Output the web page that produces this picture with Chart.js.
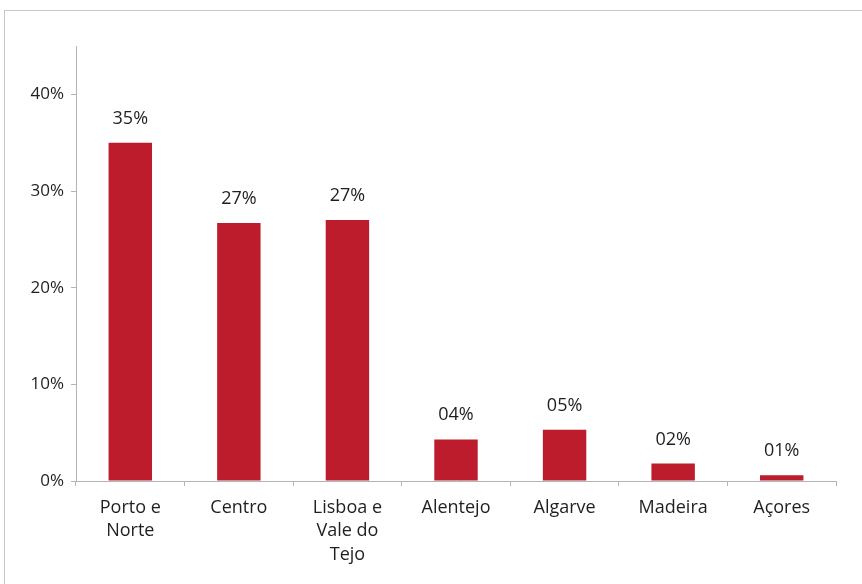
<!DOCTYPE html>
<html>
<head>
<meta charset="utf-8">
<script src="https://cdn.jsdelivr.net/npm/chart.js@4"></script>
<style>
  html, body { margin: 0; padding: 0; background: #fff; }
  #wrap { position: relative; width: 862px; height: 584px; }
  #frame { position: absolute; left: 4px; top: 10px; right: 0; bottom: 0;
           border-top: 1px solid #c6c6c6; border-left: 1px solid #c6c6c6; }
  canvas { position: absolute; left: 0; top: 0; }
</style>
</head>
<body>
<div id="wrap">
  <div id="frame"></div>
  <canvas id="c" width="862" height="584"></canvas>
</div>
<script>
// regiões e quota (%)
const REGIOES = [['Porto e', 'Norte'], 'Centro', ['Lisboa e', 'Vale do', 'Tejo'], 'Alentejo', 'Algarve', 'Madeira', 'Açores'];
const QUOTA   = [35.0, 26.7, 27.0, 4.3, 5.3, 1.8, 0.6];
const ROTULOS = ['35%', '27%', '27%', '04%', '05%', '02%', '01%'];
const Y_TICKS = [0, 10, 20, 30, 40];

const FONT = "'Open Sans', 'Noto Sans', sans-serif";
const TXT  = '#1f1f1f';
const AXIS = '#b4b4b4';

// rótulos de valor por cima das barras
const valueLabels = {
  id: 'valueLabels',
  afterDatasetsDraw(chart) {
    const ctx = chart.ctx;
    const meta = chart.getDatasetMeta(0);
    ctx.save();
    ctx.font = '18px ' + FONT;
    ctx.fillStyle = TXT;
    ctx.textAlign = 'center';
    ctx.textBaseline = 'alphabetic';
    meta.data.forEach((bar, i) => ctx.fillText(ROTULOS[i], bar.x, bar.y - 19));
    ctx.restore();
  }
};

new Chart(document.getElementById('c').getContext('2d'), {
  type: 'bar',
  data: {
    labels: REGIOES,
    datasets: [{
      data: QUOTA,
      backgroundColor: '#bc1c2b',
      borderWidth: 0,
      categoryPercentage: 1,
      barPercentage: 0.4,
    }]
  },
  options: {
    responsive: false,
    animation: false,
    devicePixelRatio: 1,
    layout: { padding: { top: 46, right: 26, bottom: 0, left: 0 } },
    plugins: { legend: { display: false }, tooltip: { enabled: false } },
    scales: {
      x: {
        offset: true,
        border: { color: AXIS, width: 1 },
        grid: { offset: true, drawOnChartArea: false, tickLength: 5, color: AXIS },
        ticks: { color: TXT, font: { family: FONT, size: 18, lineHeight: 1.3 }, padding: 10, maxRotation: 0, autoSkip: false },
        afterFit: s => { s.height = 103; },
      },
      y: {
        min: 0, max: 45,
        border: { color: AXIS, width: 1 },
        grid: { drawOnChartArea: false, tickLength: 5, color: AXIS },
        afterBuildTicks: s => { s.ticks = Y_TICKS.map(v => ({ value: v })); },
        ticks: { color: TXT, font: { family: FONT, size: 17 }, padding: 7, callback: v => v + '%' },
        afterFit: s => { s.width = 76; },
      }
    }
  },
  plugins: [valueLabels]
});
</script>
</body>
</html>
